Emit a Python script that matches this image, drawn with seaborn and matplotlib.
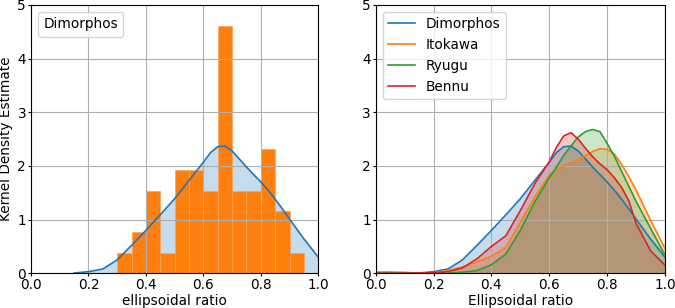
import numpy as np
import pandas as pd
import matplotlib
matplotlib.use("Agg")
import matplotlib.pyplot as plt
import seaborn as sns
from matplotlib.lines import Line2D

# Dimorphos histogram (bin width 0.05), counts
bin_edges = [0.30, 0.35, 0.40, 0.45, 0.50, 0.55, 0.60, 0.65, 0.70, 0.75, 0.80, 0.85, 0.90, 0.95]
bin_counts = [1, 2, 4, 1, 5, 5, 4, 12, 4, 4, 6, 3, 1]

# KDE curves
kde_x = [0.0, 0.05, 0.1, 0.15, 0.2, 0.25, 0.3, 0.35, 0.4, 0.45, 0.5, 0.55, 0.6,
         0.625, 0.65, 0.675, 0.7, 0.725, 0.75, 0.775, 0.8, 0.825, 0.85, 0.875,
         0.9, 0.95, 1.0]
dimorphos = [np.nan, np.nan, np.nan, 0.005, 0.03, 0.08, 0.25, 0.52, 0.80, 1.09, 1.39, 1.73, 2.07,
             2.25, 2.36, 2.37, 2.28, 2.13, 1.98, 1.84, 1.70, 1.55, 1.38, 1.20,
             1.01, 0.64, 0.30]
itokawa = [0.01, 0.01, 0.005, 0.003, 0.01, 0.05, 0.12, 0.21, 0.32, 0.48, 0.95, 1.42, 1.83,
           1.93, 2.00, 2.06, 2.12, 2.19, 2.27, 2.32, 2.31, 2.22, 2.03, 1.80,
           1.55, 0.99, 0.46]
ryugu = [0.02, 0.02, 0.015, 0.005, 0.003, 0.005, 0.02, 0.05, 0.16, 0.36, 0.80, 1.33, 1.78,
         1.98, 2.20, 2.37, 2.54, 2.64, 2.68, 2.64, 2.42, 2.18, 1.90, 1.62,
         1.34, 0.84, 0.34]
bennu = [0.0, 0.0, 0.005, 0.005, 0.01, 0.03, 0.10, 0.27, 0.50, 0.70, 1.17, 1.67, 2.08,
         2.35, 2.56, 2.62, 2.50, 2.33, 2.17, 2.04, 1.93, 1.78, 1.60, 1.35,
         0.93, 0.42, 0.15]

bodies = ["Dimorphos", "Itokawa", "Ryugu", "Bennu"]
curves = [dimorphos, itokawa, ryugu, bennu]
colors = ["#1f77b4", "#ff7f0e", "#2ca02c", "#d62728"]

plt.rcParams["font.size"] = 9.8
plt.rcParams["xtick.major.size"] = 2.5
plt.rcParams["ytick.major.size"] = 2.5
plt.rcParams["xtick.major.pad"] = 1.0
plt.rcParams["ytick.major.pad"] = 1.0

fig = plt.figure(figsize=(6.75, 3.08), dpi=100)
ax1 = fig.add_axes([0.0459, 0.1127, 0.4257, 0.8711])
ax2 = fig.add_axes([0.5566, 0.1127, 0.4286, 0.8711])

# left: histogram + KDE of Dimorphos
centers = [(a + b) / 2 for a, b in zip(bin_edges[:-1], bin_edges[1:])]
d = pd.DataFrame({"x": kde_x, "y": dimorphos}).dropna()
ax1.fill_between(d["x"], d["y"], color=colors[0], alpha=0.25, lw=0)
sns.histplot(x=centers, weights=bin_counts, bins=bin_edges, stat="density",
             color=colors[1], alpha=1, edgecolor="#fca35a", linewidth=0.5, ax=ax1)
sns.lineplot(x=d["x"], y=d["y"], color=colors[0], lw=1.2, ax=ax1)
ax1.legend(handles=[Line2D([], [], linestyle="none")], labels=["Dimorphos"],
           loc="upper left", handlelength=0, handletextpad=0)
ax1.set_xlabel("ellipsoidal ratio", labelpad=1.5)
ax1.set_ylabel("Kernel Density Estimate", labelpad=3)

# right: KDE of all four bodies
for name, vals, c in zip(bodies, curves, colors):
    d = pd.DataFrame({"x": kde_x, "y": vals}).dropna()
    ax2.fill_between(d["x"], d["y"], color=c, alpha=0.25, lw=0)
    sns.lineplot(x=d["x"], y=d["y"], color=c, lw=1.2, label=name, ax=ax2)
ax2.legend(loc="upper left")
ax2.set_xlabel("Ellipsoidal ratio", labelpad=1.5)
ax2.set_ylabel("")

for ax in (ax1, ax2):
    ax.set_xlim(0, 1)
    ax.set_ylim(0, 5)
    ax.set_xticks([0.0, 0.2, 0.4, 0.6, 0.8, 1.0])
    ax.set_yticks([0, 1, 2, 3, 4, 5])
    ax.grid(True)

fig.savefig("out.png", dpi=100)
